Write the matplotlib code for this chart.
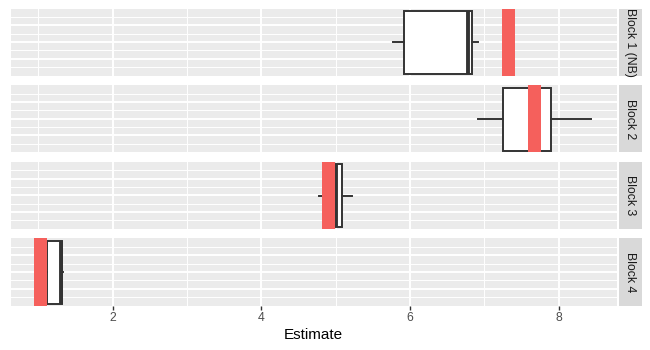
import matplotlib
matplotlib.use('Agg')
import matplotlib.pyplot as plt

plt.rcParams['font.family'] = ['Liberation Sans', 'DejaVu Sans']

# ---- data ----
blocks = ['Block 1 (NB)', 'Block 2', 'Block 3', 'Block 4']
whislo = [5.77, 6.91, 4.78, 1.05]
q1 = [5.92, 7.25, 4.99, 1.12]
med = [6.78, 7.67, 5.00, 1.30]
q3 = [6.83, 7.90, 5.08, 1.32]
whishi = [6.92, 8.44, 5.22, 1.33]
estimate = [7.32, 7.67, 4.90, 1.03]
x_ticks = [2, 4, 6, 8]

W, H = 650, 350
fig = plt.figure(figsize=(W / 100, H / 100), dpi=100)

left, right = 11, 616.5
strip_l, strip_r = 619, 641.5
top0, g = 8.5, 9.5
h = (305.5 - top0 - 3 * g) / 4
red = '#F5605C'
box_col = '#333333'

for i, name in enumerate(blocks):
    top = top0 + i * (h + g)
    ax = fig.add_axes([left / W, 1 - (top + h) / H, (right - left) / W, h / H])
    ax.set_facecolor('#EBEBEB')
    ax.set_xlim(0.631, 8.777)
    ax.set_ylim(0, 8)
    ax.set_xticks(x_ticks)
    ax.set_xticks([1, 3, 5, 7], minor=True)
    ax.set_yticks([2, 4, 6])
    ax.set_yticks([1, 3, 5, 7], minor=True)
    ax.grid(which='major', color='white', lw=1.42)
    ax.grid(which='minor', color='white', lw=0.71)
    ax.set_axisbelow(True)
    for s in ax.spines.values():
        s.set_visible(False)
    ax.tick_params(axis='y', which='both', length=0, labelleft=False)
    ax.tick_params(axis='x', which='minor', length=0)
    if i == len(blocks) - 1:
        ax.tick_params(axis='x', which='major', length=2.75, width=1.0,
                       color='#333333', labelcolor='#4D4D4D', labelsize=8.8, pad=2.2)
    else:
        ax.tick_params(axis='x', which='major', length=0, labelbottom=False)

    stats = [dict(whislo=whislo[i], q1=q1[i], med=med[i], q3=q3[i],
                  whishi=whishi[i], fliers=[])]
    ax.bxp(stats, positions=[3.95], widths=7.5, vert=False, patch_artist=True,
           showcaps=False, showfliers=False,
           boxprops=dict(facecolor='white', edgecolor=box_col, lw=1.4),
           medianprops=dict(color=box_col, lw=2.8, solid_capstyle='butt'),
           whiskerprops=dict(color=box_col, lw=1.4),
           manage_ticks=False)
    ax.axvspan(estimate[i] - 0.09, estimate[i] + 0.09, color=red, lw=0, zorder=5)
    ax.set_ylim(0, 8)

    sax = fig.add_axes([strip_l / W, 1 - (top + h) / H, (strip_r - strip_l) / W, h / H])
    sax.set_facecolor('#D9D9D9')
    sax.set_xticks([]); sax.set_yticks([])
    for s in sax.spines.values():
        s.set_visible(False)
    sax.text(0.5, 0.5, name, rotation=-90, ha='center', va='center',
             color='#1A1A1A', fontsize=8.8, transform=sax.transAxes)

fig.text((left + right) / 2 / W, 1 - 335 / H, 'Estimate', ha='center', va='center',
         fontsize=11, color='black')

fig.savefig('out.png', dpi=100)
